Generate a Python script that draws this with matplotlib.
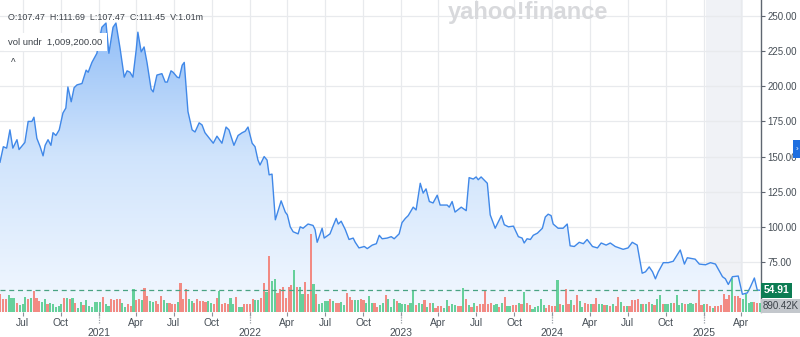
import numpy as np
import pandas as pd
import matplotlib
matplotlib.use('Agg')
import matplotlib.pyplot as plt
import matplotlib.dates as mdates
from matplotlib.colors import LinearSegmentedColormap
from matplotlib.patches import Rectangle

plt.rcParams['font.family'] = ['Liberation Sans', 'DejaVu Sans']

# weekly-ish closes
price_dates = [
    '2020-05-07', '2020-05-15', '2020-05-23', '2020-05-31', '2020-06-07', '2020-06-17', '2020-06-22', '2020-07-06',
    '2020-07-14', '2020-07-23', '2020-07-28', '2020-08-04', '2020-08-12', '2020-08-19', '2020-08-24', '2020-08-31',
    '2020-09-07', '2020-09-12', '2020-09-19', '2020-09-27', '2020-10-06', '2020-10-13', '2020-10-18', '2020-10-26',
    '2020-11-02', '2020-11-09', '2020-11-21', '2020-12-01', '2020-12-06', '2020-12-15', '2020-12-27',
    '2021-01-01', '2021-01-08', '2021-01-18', '2021-01-25', '2021-02-04', '2021-02-11', '2021-02-21', '2021-03-03',
    '2021-03-10', '2021-03-17', '2021-03-24', '2021-04-01', '2021-04-05', '2021-04-13', '2021-04-20', '2021-04-27',
    '2021-05-07', '2021-05-12', '2021-05-21', '2021-06-02', '2021-06-10', '2021-06-15', '2021-06-24', '2021-06-29',
    '2021-07-09', '2021-07-14', '2021-07-21', '2021-07-26', '2021-08-04', '2021-08-14', '2021-08-21', '2021-08-31',
    '2021-09-07', '2021-09-14', '2021-09-22', '2021-10-04', '2021-10-13', '2021-10-25', '2021-11-04', '2021-11-11',
    '2021-11-23', '2021-12-03', '2021-12-13', '2021-12-20', '2021-12-27',
    '2022-01-06', '2022-01-13', '2022-01-20', '2022-01-25', '2022-02-04', '2022-02-11', '2022-02-16', '2022-02-23',
    '2022-03-03', '2022-03-17', '2022-03-27', '2022-04-01', '2022-04-08', '2022-04-15', '2022-04-27', '2022-05-02',
    '2022-05-09', '2022-05-21', '2022-06-02', '2022-06-07', '2022-06-12', '2022-06-17', '2022-06-24', '2022-06-29',
    '2022-07-06', '2022-07-13', '2022-07-21', '2022-07-28', '2022-08-02', '2022-08-09', '2022-08-19', '2022-08-28',
    '2022-09-07', '2022-09-12', '2022-09-21', '2022-10-04', '2022-10-11', '2022-10-23', '2022-11-02', '2022-11-09',
    '2022-11-16', '2022-11-28', '2022-12-08', '2022-12-15', '2022-12-27',
    '2023-01-03', '2023-01-11', '2023-01-18', '2023-01-30', '2023-02-06', '2023-02-16', '2023-02-23', '2023-03-02',
    '2023-03-10', '2023-03-19', '2023-03-29', '2023-04-05', '2023-04-22', '2023-04-27', '2023-05-04', '2023-05-11',
    '2023-05-26', '2023-06-07', '2023-06-14', '2023-06-24', '2023-07-01', '2023-07-06', '2023-07-13', '2023-07-28',
    '2023-08-04', '2023-08-16', '2023-08-31', '2023-09-07', '2023-09-17', '2023-09-29', '2023-10-11', '2023-10-20',
    '2023-10-25', '2023-11-01', '2023-11-09', '2023-11-16', '2023-11-26', '2023-12-08', '2023-12-15', '2023-12-22',
    '2023-12-29',
    '2024-01-03', '2024-01-15', '2024-01-27', '2024-02-06', '2024-02-13', '2024-02-23', '2024-03-06', '2024-03-16',
    '2024-03-25', '2024-04-07', '2024-04-19', '2024-04-28', '2024-05-10', '2024-05-20', '2024-06-01', '2024-06-20',
    '2024-07-02', '2024-07-12', '2024-07-24', '2024-08-05', '2024-08-13', '2024-08-22', '2024-08-30', '2024-09-06',
    '2024-09-13', '2024-09-25', '2024-10-07', '2024-10-19', '2024-11-05', '2024-11-15', '2024-11-22', '2024-12-11',
    '2024-12-21',
    '2025-01-05', '2025-01-17', '2025-01-29', '2025-02-15', '2025-02-22', '2025-03-01', '2025-03-11', '2025-03-25',
    '2025-04-04', '2025-04-16', '2025-04-23', '2025-05-03', '2025-05-10', '2025-05-15',
]
prices = [
    146, 157, 156, 169, 156, 162, 155, 160, 175, 175, 178, 163, 157, 150.5, 158, 162,
    158, 167, 165, 169, 181, 184.5, 199.5, 189, 199, 201, 202, 211.5, 210, 217, 223.5,
    231.5, 242, 245, 223.5, 242, 245, 227, 206.5, 211, 210, 206.5, 226, 238.5, 224.5, 228, 217,
    198, 196, 208, 209, 203, 203, 211, 210, 206.5, 206, 215, 217, 182, 169, 167.5, 174,
    172.5, 167, 164, 159.5, 164.5, 159.5, 171, 169, 158, 165, 167, 168, 171,
    159.5, 157, 147.5, 144, 150, 147.5, 137, 137.5, 105, 118.5, 110.5, 108.5, 100, 96.5, 95, 100,
    99, 102, 101, 98, 89, 93, 99, 92, 93.5, 95, 101, 106, 102, 104, 98, 91,
    92, 89, 85, 86, 84.5, 87, 88, 94, 91.5, 92, 93, 91.5, 95,
    103, 106, 108, 114, 112, 131, 124, 127, 118, 117, 122.5, 115.5, 115.5, 114, 118, 110.5,
    114, 111.5, 135, 134, 135.5, 133.5, 135.5, 131, 108.5, 99, 108, 101.5, 100, 100.5, 93, 92,
    88.5, 91.5, 91, 94, 95.5, 99, 107, 109, 108,
    102, 99, 99, 102, 86.5, 86, 89, 88, 91, 86, 85, 88.5, 87, 88.5, 86, 84,
    85, 89, 87, 67, 68, 71.5, 68, 63, 68, 74.5, 74.5, 75.5, 83.5, 73.5, 78, 77, 73.5,
    73, 74.5, 73.5, 64.5, 63, 59, 64.5, 65, 52, 53, 57, 63.6, 55, 54.91,
]

# weekly volume in millions, g = up week, r = down week
volume = [
    1.77, 1.27, 1.33, 1.67, 1.43, 1.37, 0.93, 0.70, 0.83, 1.53,
    1.27, 1.43, 2.10, 1.43, 1.10, 1.03, 1.33, 0.83, 0.87, 0.83,
    0.53, 0.60, 0.83, 1.43, 1.40, 1.33, 1.37, 0.93, 0.43, 1.00,
    0.73, 1.17, 0.60, 0.53, 1.00, 1.00, 1.00, 1.50, 0.77, 0.60,
    1.27, 1.20, 1.27, 1.33, 0.93, 0.53, 0.83, 0.60, 2.27, 1.17,
    1.27, 1.17, 2.43, 1.60, 1.10, 1.00, 1.07, 0.83, 1.60, 1.17,
    0.93, 0.93, 0.83, 0.77, 1.00, 2.93, 1.27, 2.27, 1.27, 1.07,
    0.87, 1.27, 1.10, 1.10, 1.03, 1.10, 0.93, 0.77, 1.43, 2.10,
    0.77, 0.93, 0.83, 1.43, 0.83, 1.47, 0.53, 0.53, 0.83, 0.83, 0.83, 1.33,
    1.20, 1.20, 1.43, 2.87, 2.00, 5.60, 3.10, 3.27, 1.93, 2.27,
    2.50, 1.43, 2.50, 2.67, 4.20, 2.50, 2.50, 1.77, 3.00, 1.77,
    7.77, 2.83, 1.77, 0.83, 0.93, 1.10, 1.10, 1.33, 1.10, 0.87,
    0.87, 1.00, 0.70, 1.93, 1.53, 1.20, 1.20, 1.20, 1.27, 1.20,
    0.87, 1.60, 0.87, 0.87, 0.50, 0.70, 0.87, 1.70, 1.27, 0.50,
    1.27, 1.10, 0.87, 0.77, 0.83, 0.67, 0.87, 2.17, 0.67, 0.87,
    0.83, 1.20, 0.50, 0.87, 0.87, 0.43, 0.60, 0.60, 0.43, 1.20,
    0.60, 0.77, 0.70, 0.60, 0.60, 2.37, 1.27, 0.67, 0.50, 0.87,
    0.60, 0.77, 0.77, 2.17, 0.77, 0.93, 0.70, 0.77, 0.50, 0.93, 1.53,
    0.60, 0.60, 0.70, 0.70, 0.93, 0.77, 2.00, 0.93, 0.67, 0.27,
    0.53, 0.60, 1.27, 0.70, 0.37, 0.67, 0.60, 0.60, 3.20, 0.83,
    0.67, 2.33, 0.77, 1.17, 0.67, 1.70, 1.10, 0.53, 0.93, 0.77,
    0.83, 0.77, 1.43, 0.77, 0.77, 0.67, 0.70, 0.60, 0.77, 0.60,
    1.47, 1.03, 0.60, 0.60, 0.60, 1.20, 1.20, 1.27, 0.77, 0.77,
    0.77, 1.00, 0.77, 0.67, 1.33, 1.70, 0.83, 0.83, 0.83, 0.93,
    0.93, 1.67, 0.67, 0.93, 0.83, 0.83, 0.93, 0.83, 0.93, 2.20,
    0.70, 0.77, 0.77, 0.60, 0.43, 0.60, 0.60, 0.67, 1.83, 1.33,
    1.70, 3.37, 1.60, 1.60, 1.43, 1.27, 1.77, 0.93, 1.03, 1.03, 0.93, 0.89,
]
vol_dir = ("rrrgggrggg" "rgrrrggrgg" "gggrgrgrgg" "rggggggrgg" "rrrrggrrgr"
           "rgrrggrrrg" "grrrgrrrgg" "rrrrrggrrg" "rrrggrggrrrr"
           "ggrrgrggrr" "rrrrgrggrr" "rgrggggrgr" "rggrrrggrr" "gggrrggrgg"
           "grgggrggrg" "grgrgrrrgg" "rggrrgrgrg" "rrrrrrggrgr"
           "ggrrgrgrrg" "ggggrrrrgr" "grrgrrggrr" "grrggrgrgr" "rgrgrrrrgr"
           "grgrggrggg" "rgggrgggrr" "rgrrgrrrrr" "rgrrrggggrrg")

price_ticks = [75, 100, 125, 150, 175, 200, 225, 250]
last_price = 54.91
last_vol_label = '890.42K'
ohlc_text = 'O:107.47  H:111.69  L:107.47  C:111.45  V:1.01m'
vol_text = 'vol undr  1,009,200.00'

x_start, x_end = pd.Timestamp('2020-05-07'), pd.Timestamp('2025-05-19')
band_start, band_end = pd.Timestamp('2025-01-07'), pd.Timestamp('2025-04-06')
ylo, yhi = 39.4, 261.4

dates = pd.to_datetime(price_dates)
vdates = pd.date_range('2020-05-08', '2025-05-16', periods=len(volume))
vcolors = ['#66d09b' if c == 'g' else '#f28a83' for c in vol_dir]

fig = plt.figure(figsize=(8, 3.37), dpi=100)
rect = [0, 25 / 337, 761 / 800, 312 / 337]
ax = fig.add_axes(rect)
axv = fig.add_axes(rect, sharex=ax)
axl = fig.add_axes(rect, sharex=ax, sharey=ax)
for a in (axv, axl):
    a.patch.set_visible(False)
    a.axis('off')

# background: grid, band, gradient area
ax.set_axisbelow(True)
ax.grid(True, color='#e8eaed', lw=0.9)
ax.axvspan(band_start, band_end, color='#8a9bb8', alpha=0.12, lw=0, zorder=0.5)

fill_cmap = LinearSegmentedColormap.from_list('fill', ['#f3f8ff', '#d0e4fc', '#88b8f6'])
grad = np.linspace(0, 1, 256).reshape(-1, 1)
im = ax.imshow(grad, aspect='auto', cmap=fill_cmap, origin='lower',
               extent=(mdates.date2num(x_start), mdates.date2num(x_end), ylo, yhi), zorder=1)
area = ax.fill_between(dates, prices, ylo, facecolor='none', edgecolor='none')
im.set_clip_path(area.get_paths()[0], ax.transData)

# volume
axv.bar(vdates, volume, width=5.2, color=vcolors, lw=0)
axv.set_ylim(0, 31.2)

# price line
axl.plot(dates, prices, color='#4088e8', lw=1.0, solid_joinstyle='round')
axl.axhline(last_price, color='#4aa383', lw=0.9, ls=(0, (4, 3)))

ax.set_xlim(x_start, x_end)
ax.set_ylim(ylo, yhi)

# axes styling
for s in ('top', 'left', 'bottom'):
    ax.spines[s].set_visible(False)
ax.spines['right'].set_color('#5f6670')
ax.spines['right'].set_linewidth(1.0)
ax.yaxis.tick_right()
ax.set_yticks(price_ticks)
ax.yaxis.set_major_formatter(matplotlib.ticker.FormatStrFormatter('%.2f'))
ax.tick_params(axis='y', length=3, width=0.8, color='#5f6670', pad=1.5,
               labelsize=7.0, labelcolor='#464e56')

ax.xaxis.set_major_locator(mdates.MonthLocator(bymonth=[1, 4, 7, 10]))


def month_fmt(x, pos):
    d = mdates.num2date(x)
    if d.month == 1:
        return '\n' + str(d.year)
    return d.strftime('%b')


ax.xaxis.set_major_formatter(matplotlib.ticker.FuncFormatter(month_fmt))
ax.tick_params(axis='x', length=3, width=0.8, color='#8a9099', pad=1.5,
               labelsize=7.4, labelcolor='#464e56')
for lbl in ax.get_xticklabels():
    lbl.set_linespacing(0.95)

# dotted year ticks under the axis
years = [pd.Timestamp(f'{y}-01-01') for y in range(2021, 2026)]
ax.vlines(years, -0.035, 0, transform=ax.get_xaxis_transform(), colors='#9aa0a8',
          lw=0.9, linestyles=(0, (1, 1)), clip_on=False)

# right side value tags
ax.text(1.004, last_price, f'{last_price:.2f}', transform=ax.get_yaxis_transform(),
        ha='left', va='center', fontsize=7.4, color='white', fontweight='bold',
        bbox=dict(boxstyle='square,pad=0.25', fc='#0c7c53', ec='none'), clip_on=False)
fig.text(763 / 800, 1 - 306 / 337, last_vol_label, ha='left', va='center', fontsize=7.0,
         color='#3b4148', bbox=dict(boxstyle='square,pad=0.2', fc='#c3c7cc', ec='none'))

# header texts
fig.text(8 / 800, 1 - 18 / 337, ohlc_text, ha='left', va='center', fontsize=6.4, color='#3b4148')
fig.text(8 / 800, 1 - 42 / 337, vol_text, ha='left', va='center', fontsize=6.8, color='#3b4148',
         bbox=dict(boxstyle='square,pad=0.45', fc='white', ec='none'))
fig.text(13 / 800, 1 - 63 / 337, '^', ha='center', va='center', fontsize=7, color='#3b4148')
fig.text(528 / 800, 1 - 12 / 337, 'yahoo!finance', ha='center', va='center', fontsize=17,
         fontweight='bold', color='#d8d9dc')

# blue side tab
fig.add_artist(Rectangle((793 / 800, 1 - 158 / 337), 8 / 800, 18 / 337,
                         transform=fig.transFigure, fc='#1f6fe0', ec='none'))
fig.text(797 / 800, 1 - 149 / 337, '›', ha='center', va='center', fontsize=6, color='white')

fig.savefig('out.png', dpi=100)
